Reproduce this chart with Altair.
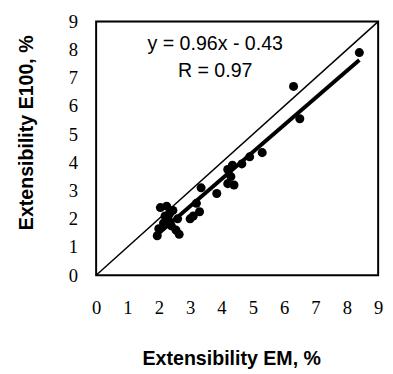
import altair as alt
import pandas as pd

# measured points (Extensibility EM %, Extensibility E100 %)
em = [1.95, 2.0, 2.05, 2.15, 2.25, 2.3, 2.35, 2.4, 2.45, 2.55, 2.65, 2.2, 2.6,
      3.0, 3.1, 3.2, 3.3, 3.35, 3.85, 4.2, 4.2, 4.35, 4.4, 4.3, 4.65, 4.9, 5.3,
      6.3, 6.5, 8.4]
e100 = [1.4, 1.65, 2.4, 1.85, 2.45, 2.0, 2.2, 1.75, 2.3, 1.6, 1.45, 2.1, 2.0,
        2.0, 2.1, 2.55, 2.25, 3.1, 2.9, 3.75, 3.25, 3.9, 3.2, 3.5, 3.95, 4.2, 4.35,
        6.7, 5.55, 7.9]

slope, intercept = 0.96, -0.43
fit_x = [1.9, 8.4]
diag_v = [0, 9]
eq_lines = ["y = 0.96x - 0.43", "R = 0.97"]
eq_x = [3.8, 3.8]
eq_y = [7.98, 7.04]
ticks = list(range(10))

pts = pd.DataFrame({"x": em, "y": e100})
fit = pd.DataFrame({"x": fit_x, "y": [slope * v + intercept for v in fit_x]})
diag = pd.DataFrame({"x": diag_v, "y": diag_v})
eq = pd.DataFrame({"x": eq_x, "y": eq_y, "t": eq_lines})

W, H = 288, 259

xs = alt.Scale(domain=[0, 9], nice=False)
ys = alt.Scale(domain=[0, 9], nice=False)

xax = alt.Axis(values=ticks, title="Extensibility EM, %", grid=False, ticks=False,
               domain=False, labelFont="Liberation Serif", labelFontSize=19,
               labelColor="black", labelPadding=24, labelFlush=False, labelOverlap=False,
               titleFont="Liberation Sans", titleFontSize=20, titleFontWeight="bold",
               titleColor="black", titleX=138, titleY=85, titleBaseline="middle",
               titleAlign="center", titleAnchor="middle")
yax = alt.Axis(values=ticks, title="Extensibility E100, %", grid=False, ticks=False,
               domain=False, labelFont="Liberation Serif", labelFontSize=19,
               labelColor="black", labelPadding=19, labelFlush=False, labelOverlap=False,
               titleFont="Liberation Sans", titleFontSize=20, titleFontWeight="bold",
               titleColor="black", titleX=-71, titleY=113, titleAngle=-90,
               titleBaseline="middle", titleAlign="center")

X = alt.X("x:Q", scale=xs, axis=xax)
Y = alt.Y("y:Q", scale=ys, axis=yax)

diag_l = alt.Chart(diag).mark_line(color="black", strokeWidth=1.5).encode(x=X, y=Y)
fit_l = alt.Chart(fit).mark_line(color="black", strokeWidth=4).encode(x=X, y=Y)
pts_m = alt.Chart(pts).mark_circle(color="black", opacity=1, size=85).encode(x=X, y=Y)
txt = alt.Chart(eq).mark_text(font="Liberation Sans", fontSize=20, color="black",
                              align="center", baseline="alphabetic").encode(
    x=X, y=Y, text="t:N")
frame = alt.Chart(pd.DataFrame({"a": [0]})).mark_rect(
    fill=None, fillOpacity=0, stroke="black", strokeWidth=2).encode(
    x=alt.value(0), x2=alt.value(W), y=alt.value(0), y2=alt.value(H))

chart = alt.layer(diag_l, fit_l, pts_m, txt, frame).properties(
    width=W, height=H,
    autosize=alt.AutoSizeParams(type="none"),
    padding={"left": 90, "top": 10, "right": 7, "bottom": 97},
).configure_view(strokeWidth=0).configure(background="white")

chart.save("out.html", embed_options={"renderer": "svg", "actions": False})
